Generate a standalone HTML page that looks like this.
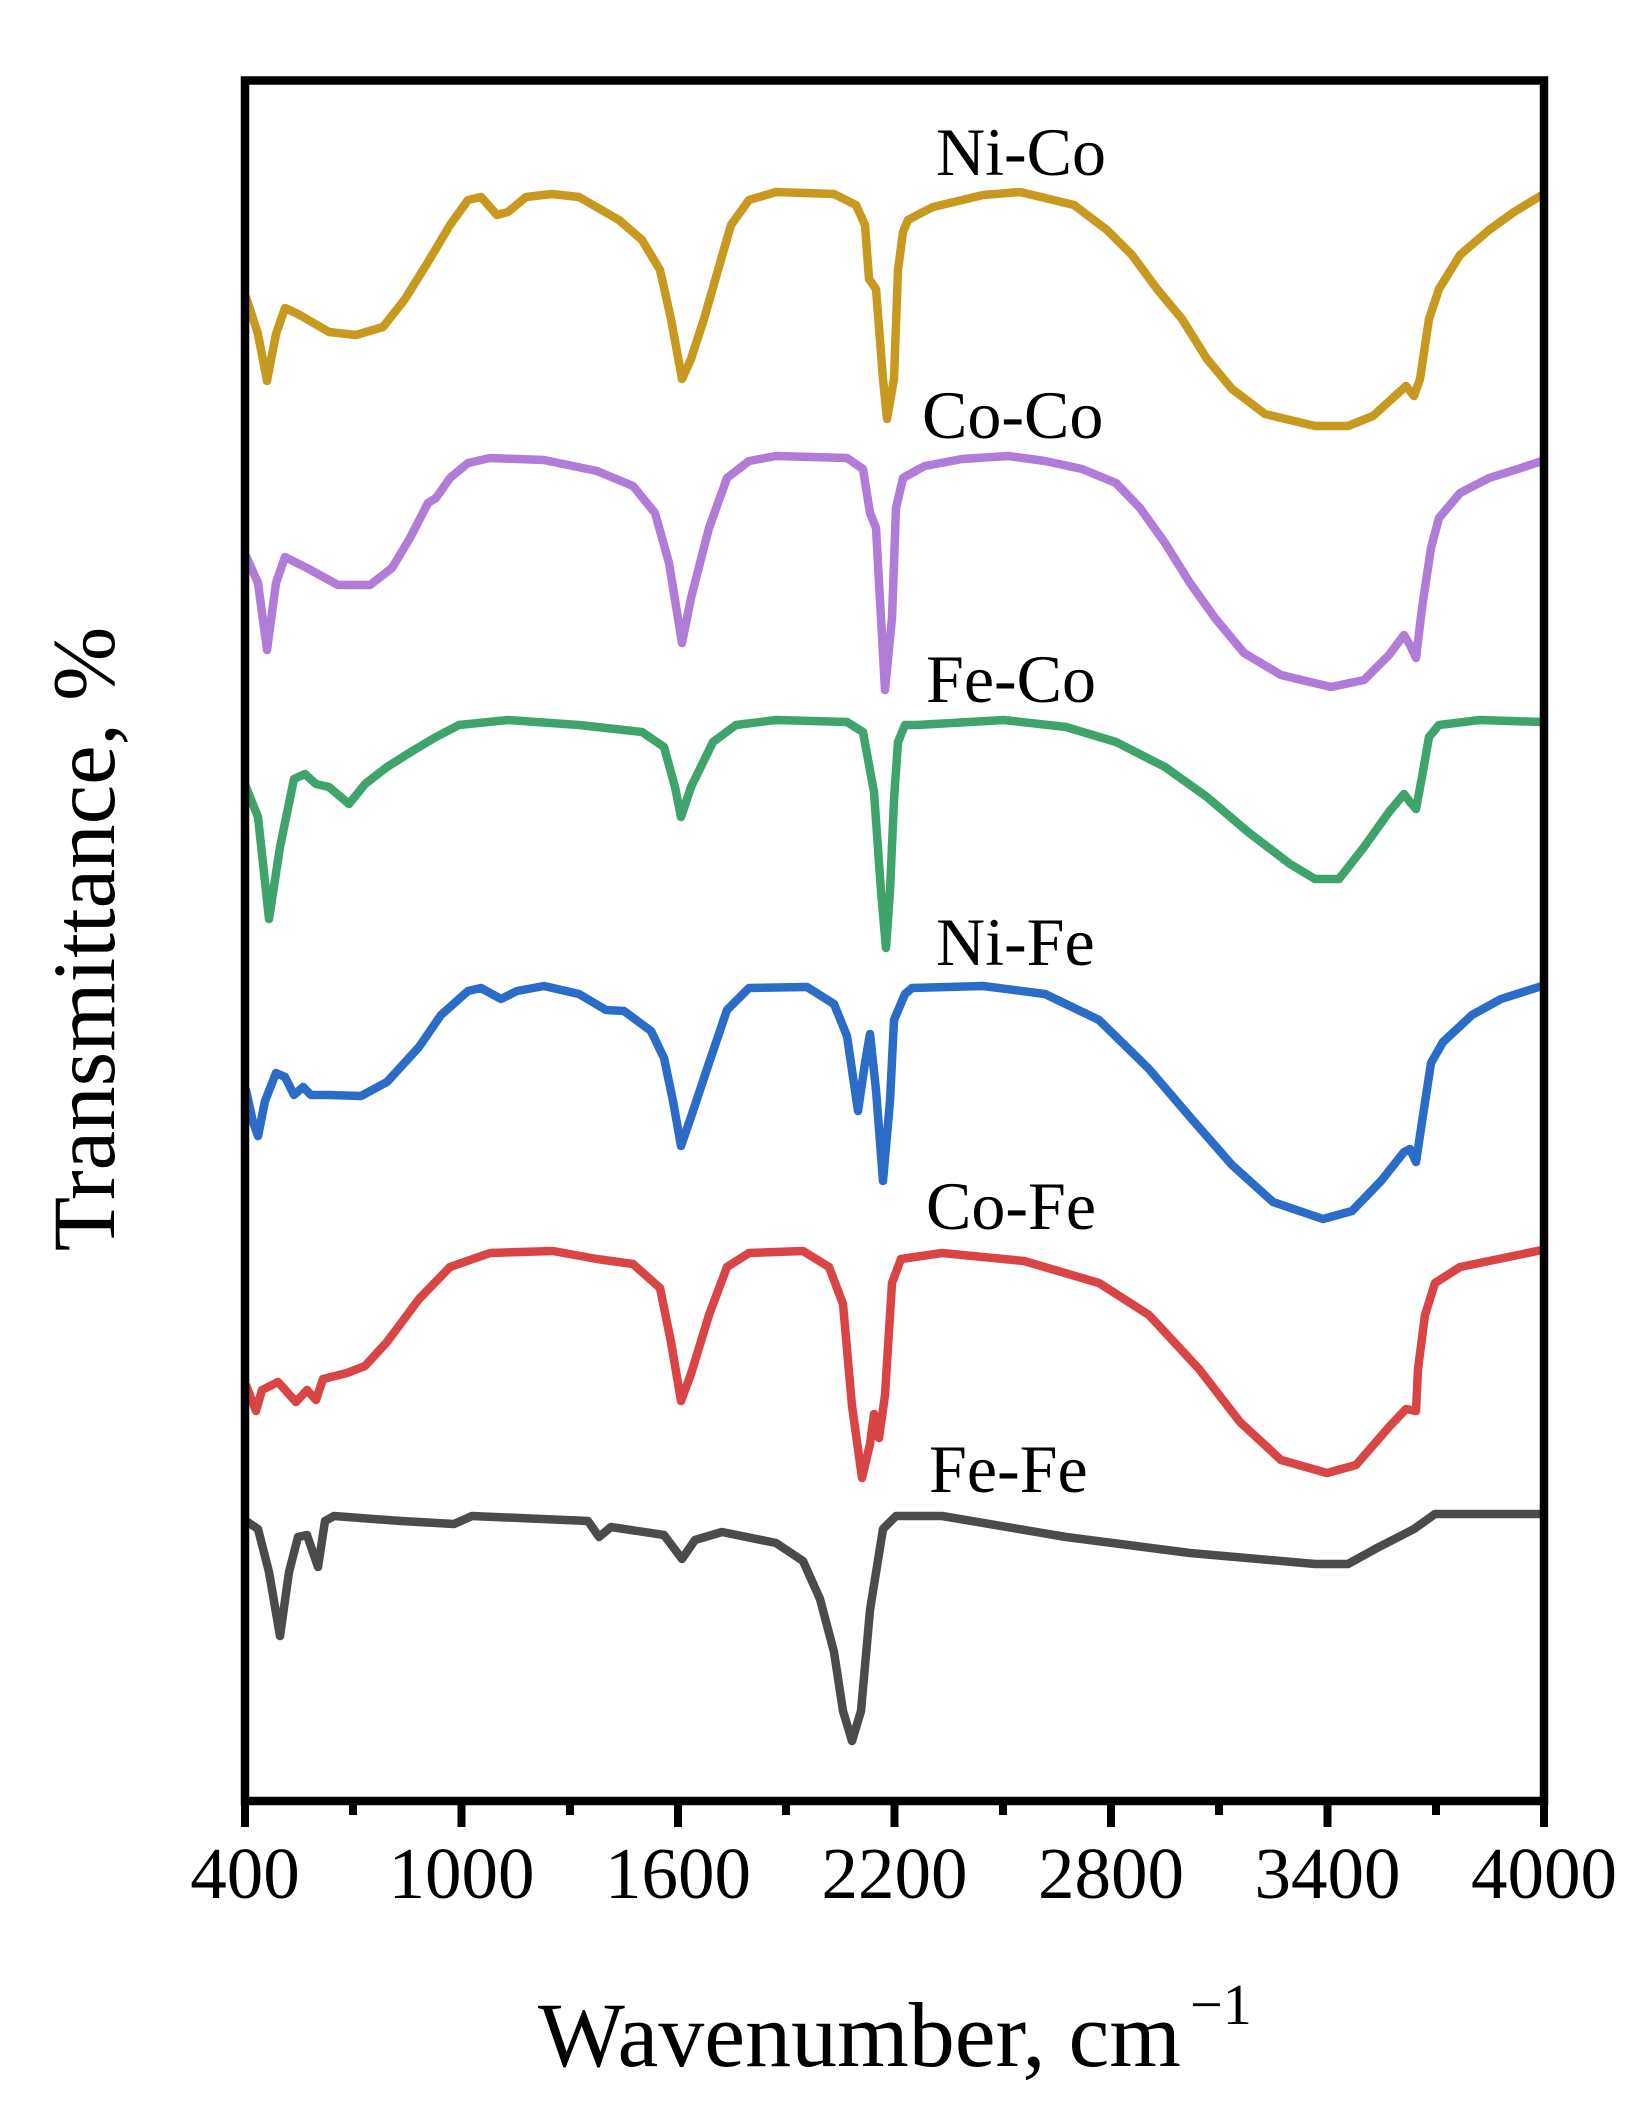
<!DOCTYPE html>
<html>
<head>
<meta charset="utf-8">
<style>
  html,body{margin:0;padding:0;background:#fff;}
  svg{display:block;}
  text{font-family:"Liberation Serif","Times New Roman",serif;fill:#000;}
</style>
</head>
<body>
<svg width="1642" height="2115" viewBox="0 0 1642 2115" xmlns="http://www.w3.org/2000/svg">
  <rect width="1642" height="2115" fill="#fff"/>

  <g fill="none" stroke-width="8.5" stroke-linejoin="round" stroke-linecap="round">
    <!-- Ni-Co -->
    <polyline stroke="#C8991F" points="246,297 258,334 267,381 276,334 285,308 298,314 329,332 356,335 383,327 405,299 428,262 450,225 468,200 481,197 497,215 508,212 526,197 552,194 579,197 619,220 642,240 660,270 671,319 682,379 691,359 704,319 718,270 731,225 749,200 776,192 834,194 856,205 865,225 869,279 876,289 883,379 887,419 894,379 898,270 903,232 908,220 923,212 933,207 983,195 1020,192 1041,197 1074,205 1107,230 1132,255 1157,289 1182,319 1207,359 1232,389 1265,414 1315,426 1348,426 1373,416 1395,396 1406,386 1414,396 1420,379 1429,319 1439,289 1460,255 1489,230 1514,212 1542,195"/>
    <!-- Co-Co -->
    <polyline stroke="#B07CD8" points="246,556 258,583 267,650 276,583 285,557 307,568 338,585 370,585 392,568 410,538 428,503 436,498 450,478 468,463 490,458 544,460 597,471 633,486 655,513 669,563 682,643 691,598 709,528 727,478 749,461 776,456 847,458 863,469 870,513 876,528 881,618 885,690 892,618 896,508 903,478 919,469 925,466 962,459 1008,456 1045,461 1082,469 1116,483 1140,508 1165,543 1190,583 1215,618 1244,653 1281,675 1331,687 1364,680 1389,655 1404,635 1410,645 1416,658 1422,608 1431,548 1439,518 1460,493 1489,478 1518,469 1542,461"/>
    <!-- Fe-Co -->
    <polyline stroke="#3FA46C" points="246,787 258,817 269,919 280,847 294,779 305,774 316,784 329,787 349,804 365,784 387,767 414,750 436,737 459,725 508,720 579,725 642,732 664,747 675,787 681,817 691,787 713,742 736,725 776,720 847,722 863,732 874,792 881,891 886,948 890,891 894,800 898,742 905,725 917,725 1004,720 1066,727 1116,742 1165,767 1207,797 1248,832 1290,864 1315,879 1339,879 1364,847 1389,812 1404,794 1410,802 1416,809 1422,777 1429,737 1439,725 1480,720 1542,722"/>
    <!-- Ni-Fe -->
    <polyline stroke="#2B6CC8" points="246,1090 253,1122 258,1136 265,1101 276,1073 285,1077 294,1095 303,1087 311,1095 329,1095 361,1096 387,1082 419,1047 441,1015 468,991 481,988 501,999 517,991 544,986 579,994 606,1010 624,1011 651,1031 664,1058 673,1101 681,1146 691,1117 709,1063 727,1010 749,988 807,987 834,1004 847,1036 858,1111 865,1063 870,1034 876,1090 883,1181 890,1101 894,1020 905,994 912,988 983,986 1045,994 1099,1020 1149,1069 1190,1117 1232,1165 1273,1202 1323,1219 1352,1211 1381,1181 1404,1152 1410,1149 1416,1162 1422,1122 1431,1063 1443,1042 1472,1015 1501,999 1542,986"/>
    <!-- Co-Fe -->
    <polyline stroke="#D94545" points="246,1385 256,1411 262,1390 278,1382 296,1402 307,1390 316,1400 323,1379 347,1373 365,1366 387,1342 419,1299 450,1267 490,1253 553,1251 597,1259 633,1264 660,1288 671,1342 681,1401 691,1374 709,1315 727,1267 749,1253 803,1251 829,1267 843,1304 852,1406 862,1478 870,1444 874,1414 879,1438 885,1395 892,1283 901,1259 942,1253 1024,1261 1099,1283 1149,1315 1199,1369 1240,1422 1281,1460 1327,1473 1356,1465 1389,1427 1406,1409 1416,1411 1418,1369 1425,1315 1435,1283 1460,1267 1489,1261 1542,1250"/>
    <!-- Fe-Fe -->
    <polyline stroke="#4B4B4B" points="246,1521 258,1529 269,1572 280,1636 289,1572 298,1537 307,1535 318,1567 325,1521 334,1516 401,1521 454,1524 472,1516 588,1521 599,1537 611,1527 664,1535 682,1559 695,1540 722,1532 776,1543 803,1561 820,1599 834,1652 843,1711 852,1741 861,1711 870,1610 883,1529 896,1516 942,1516 1066,1537 1190,1553 1315,1564 1348,1564 1377,1548 1414,1529 1435,1514 1542,1514"/>
  </g>

  <!-- Frame -->
  <rect x="245" y="80.5" width="1299" height="1720.5" fill="none" stroke="#000" stroke-width="8.5"/>

  <!-- Ticks -->
  <g stroke="#000" stroke-width="8">
    <line x1="245" y1="1801" x2="245" y2="1827"/>
    <line x1="461.5" y1="1801" x2="461.5" y2="1827"/>
    <line x1="678" y1="1801" x2="678" y2="1827"/>
    <line x1="894.5" y1="1801" x2="894.5" y2="1827"/>
    <line x1="1111" y1="1801" x2="1111" y2="1827"/>
    <line x1="1327.5" y1="1801" x2="1327.5" y2="1827"/>
    <line x1="1544" y1="1801" x2="1544" y2="1827"/>
    <line x1="353" y1="1801" x2="353" y2="1815"/>
    <line x1="570" y1="1801" x2="570" y2="1815"/>
    <line x1="786" y1="1801" x2="786" y2="1815"/>
    <line x1="1003" y1="1801" x2="1003" y2="1815"/>
    <line x1="1219" y1="1801" x2="1219" y2="1815"/>
    <line x1="1436" y1="1801" x2="1436" y2="1815"/>
  </g>

  <!-- Tick labels -->
  <g font-size="73" text-anchor="middle">
    <text x="245" y="1898">400</text>
    <text x="461.5" y="1898">1000</text>
    <text x="678" y="1898">1600</text>
    <text x="894.5" y="1898">2200</text>
    <text x="1111" y="1898">2800</text>
    <text x="1327.5" y="1898">3400</text>
    <text x="1544" y="1898">4000</text>
  </g>

  <!-- Axis titles -->
  <text x="538" y="2066" font-size="92">Wavenumber, cm</text>
  <text x="1190" y="2024" font-size="58">−1</text>
  <text transform="translate(114,939) rotate(-90)" font-size="89" text-anchor="middle">Transmittance, %</text>

  <!-- Series labels -->
  <g font-size="68">
    <text x="936" y="175">Ni-Co</text>
    <text x="922" y="438">Co-Co</text>
    <text x="926" y="702">Fe-Co</text>
    <text x="936" y="965">Ni-Fe</text>
    <text x="926" y="1229">Co-Fe</text>
    <text x="929" y="1492">Fe-Fe</text>
  </g>
</svg>
</body>
</html>
